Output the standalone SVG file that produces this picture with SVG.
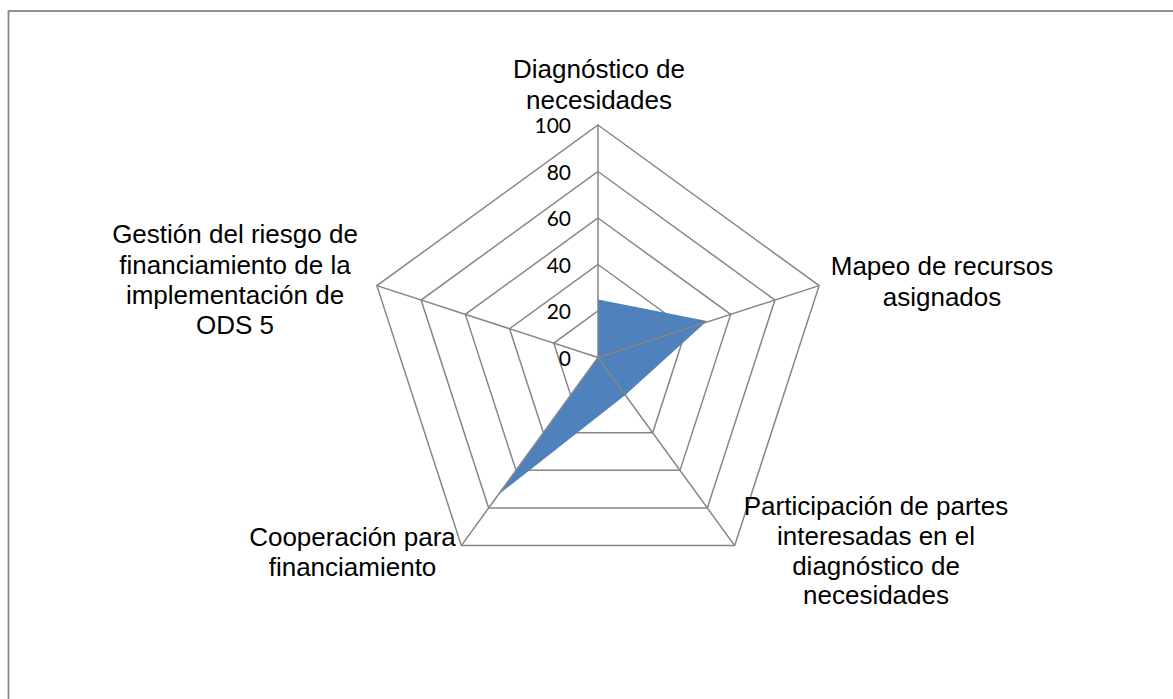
<svg xmlns="http://www.w3.org/2000/svg" width="1173" height="699" viewBox="0 0 1173 699">
<style>
.grid{fill:none;stroke:#868686;stroke-width:1.5;stroke-linejoin:miter}
.axis{stroke:#868686;stroke-width:1.5}
.lbl{font-family:"Liberation Sans",Arial,sans-serif;font-size:26px;fill:#000;text-anchor:middle}
.tick{font-family:Lato,"Open Sans",sans-serif;font-size:21px;fill:#000;text-anchor:end}
</style>
<rect x="0" y="0" width="1173" height="699" fill="#ffffff"/>
<rect id="frame" x="8.5" y="11" width="1180" height="720" fill="#ffffff" stroke="#868686" stroke-width="1.8"/>
<g id="grid">
<polygon class="grid" points="598,125 819.12,285.65 734.66,545.6 461.34,545.6 376.88,285.65"/>
<polygon class="grid" points="598,171.5 774.9,300.02 707.33,507.98 488.67,507.98 421.1,300.02"/>
<polygon class="grid" points="598,218 730.67,314.39 680,470.36 516,470.36 465.33,314.39"/>
<polygon class="grid" points="598,264.5 686.45,328.76 652.66,432.74 543.34,432.74 509.55,328.76"/>
<polygon class="grid" points="598,311 642.22,343.13 625.33,395.12 570.67,395.12 553.78,343.13"/>
</g>
<g id="series">
<polygon points="598,299.4 707,321 625.3,395 498.3,494.8 598,357.5" fill="#4F81BD"/>
</g>
<g id="connectors">
<line class="axis" x1="598" y1="357.5" x2="598" y2="125"/>
<line class="axis" x1="598" y1="357.5" x2="819.12" y2="285.65"/>
<line class="axis" x1="598" y1="357.5" x2="734.66" y2="545.6"/>
<line class="axis" x1="598" y1="357.5" x2="461.34" y2="545.6"/>
<line class="axis" x1="598" y1="357.5" x2="376.88" y2="285.65"/>
</g>
<g id="ticks">
<text class="tick" x="571" y="133">100</text>
<text class="tick" x="571" y="179.5">80</text>
<text class="tick" x="571" y="226">60</text>
<text class="tick" x="571" y="272.5">40</text>
<text class="tick" x="571" y="319">20</text>
<text class="tick" x="571" y="365.5">0</text>
</g>
<g id="node-diagnostico">
<text class="lbl" x="599" y="78">Diagnóstico de</text>
<text class="lbl" x="599" y="108.5">necesidades</text>
</g>
<g id="node-mapeo">
<text class="lbl" x="942" y="275">Mapeo de recursos</text>
<text class="lbl" x="942" y="305.5">asignados</text>
</g>
<g id="node-participacion">
<text class="lbl" x="876" y="515">Participación de partes</text>
<text class="lbl" x="876" y="545">interesadas en el</text>
<text class="lbl" x="876" y="574.5">diagnóstico de</text>
<text class="lbl" x="876" y="604">necesidades</text>
</g>
<g id="node-cooperacion">
<text class="lbl" x="352.5" y="546">Cooperación para</text>
<text class="lbl" x="352.5" y="576">financiamiento</text>
</g>
<g id="node-gestion">
<text class="lbl" x="235" y="243">Gestión del riesgo de</text>
<text class="lbl" x="235" y="273.5">financiamiento de la</text>
<text class="lbl" x="235" y="304">implementación de</text>
<text class="lbl" x="235" y="334">ODS 5</text>
</g>
</svg>
